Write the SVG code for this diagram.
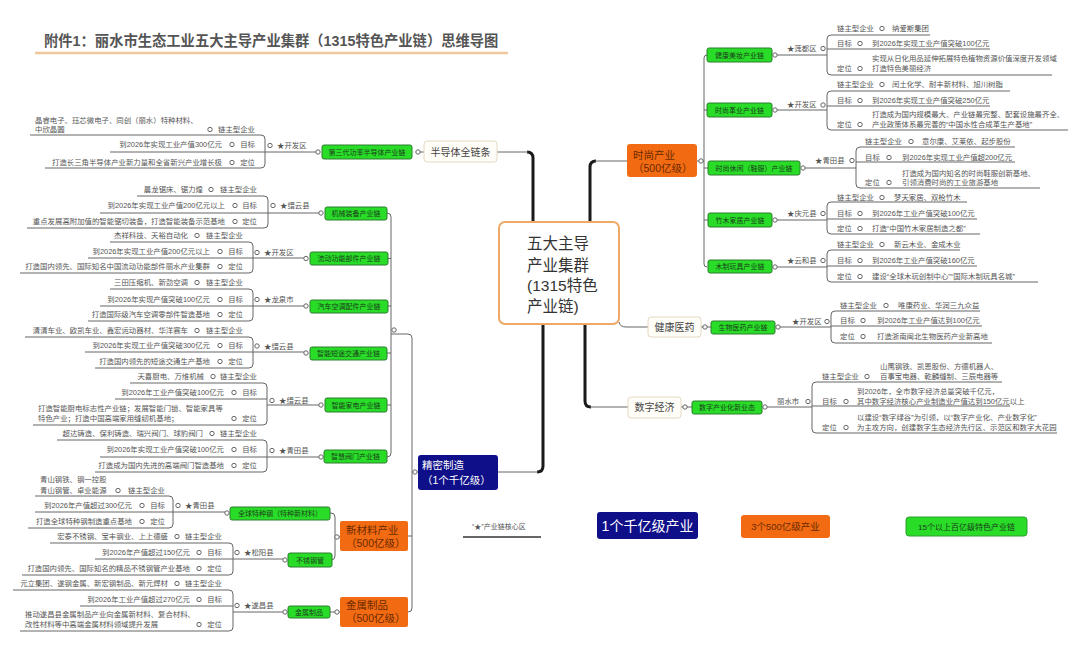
<svg xmlns="http://www.w3.org/2000/svg" width="1080" height="663" viewBox="0 0 1080 663">
<style>
text{font-family:'Liberation Sans','Noto Sans CJK SC',sans-serif}
.d{font-size:7.4px;fill:#555}
.de{font-size:7.4px;fill:#555;text-anchor:end}
.ln{fill:none;stroke:#666;stroke-width:1}
.mk{fill:#fff;stroke:#666;stroke-width:1}
.gb{fill:#28dc28;stroke:#2f7f2f;stroke-width:1}
.gt{font-size:7px;fill:#1d3d1d;text-anchor:middle}
.th{fill:none;stroke:#1a1a1a;stroke-width:3}
.ob{fill:#f26b12}
.ot{font-size:10.5px;fill:#6b2a00}
.wb{fill:#fffdf8;stroke:#e6d8c2;stroke-width:1}
.wt{font-size:10px;fill:#444;text-anchor:middle}
</style>
<rect width="1080" height="663" fill="#fff"/>
<g id="title">
<text x="44" y="46" font-size="14.3" font-weight="bold" fill="#555">附件1：丽水市生态工业五大主导产业集群（1315特色产业链）思维导图</text>
<line x1="35" y1="53" x2="508" y2="53" stroke="#f0c79a" stroke-width="2.5"/>
</g>
<g id="connectors">
<path class="th" d="M527,152 Q533,152 533,158 V222"/>
<path class="ln" d="M497,152 H528"/>
<path class="th" d="M590,222 V167 Q590,161 596,161"/>
<path class="ln" d="M595,161 H627"/>
<path class="th" d="M585,324 V401 Q585,407 591,407"/>
<path class="ln" d="M590,407 H628"/>
<path class="th" d="M543,324 V466 Q543,472 537,472"/>
<path class="ln" d="M538,472 H498"/>
<path class="ln" d="M619,322 Q620,327 626,327 H648"/>
<path class="ln" d="M416,152 H424"/>
<path class="ln" d="M387,213 Q391,213 391,217 V453 Q391,457 387,457 M388,258.5 H391 M388,306 H391 M387,353 H391 M387,405 H391 M391,334 H408 Q412,334 412,338 V608 Q412,612 408,612 M408,536 H412 M412,472 H418"/>
<path class="ln" d="M330,513 H331 Q335,513 335,517 V556 Q335,560 331,560 H332 M335,537 H340 M330,612 H340"/>
<path class="ln" d="M697,161 H704 M707,55 Q704,55 704,58 V264 Q704,267 707,267 M704,110 H707 M704,168 H708 M704,220 H708"/>
<path class="ln" d="M701,327 H711 M681,407 H692"/>
<path class="ln" d="M30,135 H261 Q265,135 265,139 V164 Q265,168 261,168 H45 M110,152 H318"/>
<path class="ln" d="M137,196 H264 Q268,196 268,200 V224 Q268,228 264,228 H27 M100,213 H321"/>
<path class="ln" d="M110,242 H249 Q253,242 253,246 V269 Q253,273 249,273 H20 M88,258 H306"/>
<path class="ln" d="M110,289 H249 Q253,289 253,293 V317 Q253,321 249,321 H88 M100,306 H306"/>
<path class="ln" d="M25,337 H249 Q253,337 253,341 V364 Q253,368 249,368 H95 M85,352 H306"/>
<path class="ln" d="M130,383 H263 Q267,383 267,387 V421 Q267,425 263,425 H33 M115,399 H267 M267,405 H321"/>
<path class="ln" d="M57,440 H263 Q267,440 267,444 V468 Q267,472 263,472 H95 M100,457 H321"/>
<path class="ln" d="M35,496 H169 Q173,496 173,500 V524 Q173,528 169,528 H28 M35,512 H227"/>
<path class="ln" d="M50,543 H229 Q233,543 233,547 V571 Q233,575 229,575 H22 M95,559 H285"/>
<path class="ln" d="M13,590 H229 Q233,590 233,594 V627 Q233,631 229,631 H20 M80,606 H233 M233,612 H285"/>
<path class="ln" d="M930,35 H831 Q827,35 827,39 V71 Q827,75 831,75 H1052 M827,49 H990 M774,55 H827"/>
<path class="ln" d="M1010,91 H831 Q827,91 827,95 V126 Q827,130 831,130 H1068 M827,106 H990 M774,110 H827"/>
<path class="ln" d="M1015,147 H860 Q856,147 856,151 V184 Q856,188 860,188 H1040 M856,162 H1015 M803,168 H856"/>
<path class="ln" d="M967,202 H831 Q827,202 827,206 V230 Q827,234 831,234 H980 M827,219 H977 M774,220 H827"/>
<path class="ln" d="M960,250 H831 Q827,250 827,254 V278 Q827,282 831,282 H1038 M827,266 H977 M774,267 H827"/>
<path class="ln" d="M980,311 H835 Q831,311 831,315 V339 Q831,343 835,343 H992 M831,326 H982 M778,327 H831"/>
<path class="ln" d="M1002,382 H816 Q812,382 812,386 V429 Q812,433 816,433 H1057 M812,406 H1010 M764,407 H812"/>
<g>
<circle class="mk" cx="418" cy="152" r="2.2"/><circle class="mk" cx="318" cy="152" r="2.2"/>
<circle class="mk" cx="321" cy="213" r="2.2"/><circle class="mk" cx="306" cy="258.5" r="2.2"/>
<circle class="mk" cx="306" cy="306" r="2.2"/><circle class="mk" cx="306" cy="353" r="2.2"/>
<circle class="mk" cx="321" cy="405" r="2.2"/><circle class="mk" cx="321" cy="457" r="2.2"/>
<circle class="mk" cx="227" cy="513" r="2.2"/><circle class="mk" cx="285" cy="560" r="2.2"/>
<circle class="mk" cx="285" cy="612" r="2.2"/><circle class="mk" cx="337" cy="537" r="2.2"/>
<circle class="mk" cx="337" cy="612" r="2.2"/><circle class="mk" cx="415" cy="472" r="2.2"/>
<circle class="mk" cx="394" cy="330" r="2.2"/>
<circle class="mk" cx="701" cy="161" r="2.2"/><circle class="mk" cx="775" cy="55" r="2.2"/>
<circle class="mk" cx="775" cy="110" r="2.2"/><circle class="mk" cx="803" cy="168" r="2.2"/>
<circle class="mk" cx="775" cy="220" r="2.2"/><circle class="mk" cx="775" cy="267" r="2.2"/>
<circle class="mk" cx="705" cy="327" r="2.2"/><circle class="mk" cx="778" cy="327" r="2.2"/>
<circle class="mk" cx="685" cy="407" r="2.2"/><circle class="mk" cx="765" cy="407" r="2.2"/>
</g>
</g>
<g id="center">
<rect x="499" y="222" width="120" height="102" rx="6" fill="#fff" stroke="#f0a868" stroke-width="2"/>
<g font-size="15.5" fill="#333">
<text x="527" y="249">五大主导</text>
<text x="527" y="271">产业集群</text>
<text x="527" y="291">(1315特色</text>
<text x="527" y="312">产业链)</text>
</g>
</g>
<g id="node-semiconductor">
<rect class="wb" x="424" y="141" width="73" height="21" rx="3"/>
<text class="wt" x="460.5" y="156">半导体全链条</text>
</g>
<g id="node-fashion">
<rect class="ob" x="627" y="144" width="70" height="33" rx="3"/>
<text class="ot" x="633" y="158.5">时尚产业</text>
<text class="ot" x="633" y="171.5">（500亿级）</text>
</g>
<g id="node-health">
<rect class="wb" x="648" y="317" width="53" height="20" rx="3"/>
<text class="wt" x="674.5" y="331">健康医药</text>
</g>
<g id="node-digital">
<rect class="wb" x="628" y="397" width="53" height="21" rx="3"/>
<text class="wt" x="654.5" y="411">数字经济</text>
</g>
<g id="node-precision">
<rect x="418" y="455" width="80" height="35" rx="3" fill="#0f0f8a"/>
<text x="422" y="469" font-size="10.5" fill="#fff">精密制造</text>
<text x="422" y="484" font-size="10.5" fill="#fff">（1个千亿级）</text>
</g>
<g id="node-newmaterial">
<rect class="ob" x="340" y="521" width="68" height="30" rx="2"/>
<text class="ot" x="346" y="534">新材料产业</text>
<text class="ot" x="346" y="547">（500亿级）</text>
</g>
<g id="node-metal">
<rect class="ob" x="340" y="597" width="68" height="30" rx="2"/>
<text class="ot" x="346" y="609">金属制品</text>
<text class="ot" x="346" y="622">（500亿级）</text>
</g>
<g id="chain-boxes">
<rect class="gb" x="322" y="145" width="90" height="14" rx="2"/><text class="gt" x="367" y="154.5">第三代功率半导体产业链</text>
<rect class="gb" x="325" y="207" width="62" height="13" rx="2"/><text class="gt" x="356" y="216">机械装备产业链</text>
<rect class="gb" x="310" y="252" width="78" height="13" rx="2"/><text class="gt" x="349" y="261">流动功能部件产业链</text>
<rect class="gb" x="310" y="300" width="78" height="13" rx="2"/><text class="gt" x="349" y="309">汽车空调配件产业链</text>
<rect class="gb" x="310" y="347" width="77" height="13" rx="2"/><text class="gt" x="348.5" y="356">智能短途交通产业链</text>
<rect class="gb" x="325" y="398" width="62" height="14" rx="2"/><text class="gt" x="356" y="407.5">智能家电产业链</text>
<rect class="gb" x="324" y="450" width="63" height="13" rx="2"/><text class="gt" x="355.5" y="459">智慧阀门产业链</text>
<rect class="gb" x="230" y="507" width="100" height="13" rx="2"/><text class="gt" x="280" y="516">全球特种钢（特种新材料）</text>
<rect class="gb" x="288" y="553" width="44" height="14" rx="2"/><text class="gt" x="310" y="562.5">不锈钢管</text>
<rect class="gb" x="288" y="606" width="42" height="12" rx="2"/><text class="gt" x="309" y="614.5">金属制品</text>
<rect class="gb" x="707" y="48" width="65" height="14" rx="2"/><text class="gt" x="739.5" y="57.5">健康美妆产业链</text>
<rect class="gb" x="707" y="103" width="65" height="14" rx="2"/><text class="gt" x="739.5" y="112.5">时尚革业产业链</text>
<rect class="gb" x="708" y="161" width="92" height="14" rx="2"/><text class="gt" x="754" y="170.5">时尚休闲（鞋服）产业链</text>
<rect class="gb" x="708" y="213" width="64" height="14" rx="2"/><text class="gt" x="740" y="222.5">竹木家居产业链</text>
<rect class="gb" x="708" y="260" width="64" height="13" rx="2"/><text class="gt" x="740" y="269">木制玩具产业链</text>
<rect class="gb" x="711" y="321" width="64" height="13" rx="2"/><text class="gt" x="743" y="330">生物医药产业链</text>
<rect class="gb" x="692" y="401" width="70" height="13" rx="2"/><text class="gt" x="727" y="410">数字产业化新业态</text>
</g>
<g id="details-left">
<g id="d-semi">
<text class="d" x="35" y="123">晶睿电子、珏芯微电子、同创（丽水）特种材料、</text>
<text class="d" x="35" y="132">中欣晶圆</text>
<circle class="mk" cx="210" cy="129.5" r="2.2"/><text class="de" x="255" y="132">链主型企业</text>
<text class="de" x="222" y="147">到2026年实现工业产值300亿元</text>
<circle class="mk" cx="232" cy="144.5" r="2.2"/><text class="de" x="255" y="147">目标</text>
<text class="de" x="222" y="165">打造长三角半导体产业新力量和全省新兴产业增长极</text>
<circle class="mk" cx="232" cy="162.5" r="2.2"/><text class="de" x="255" y="165">定位</text>
<circle class="mk" cx="270" cy="145.5" r="2.2"/><text class="d" x="277" y="148">★开发区</text>
</g>
<g id="d-machine">
<text class="de" x="203" y="192">晨龙锯床、锯力煌</text>
<circle class="mk" cx="211" cy="189.5" r="2.2"/><text class="de" x="257" y="192">链主型企业</text>
<text class="de" x="225" y="208">到2026年实现工业产值200亿元以上</text>
<circle class="mk" cx="235" cy="205.5" r="2.2"/><text class="de" x="257" y="208">目标</text>
<text class="de" x="225" y="224">重点发展高附加值的智能锯切装备，打造智能装备示范基地</text>
<circle class="mk" cx="235" cy="221.5" r="2.2"/><text class="de" x="257" y="224">定位</text>
<circle class="mk" cx="273" cy="205.5" r="2.2"/><text class="d" x="280" y="208">★缙云县</text>
</g>
<g id="d-fluid">
<text class="de" x="188" y="238">杰祥科技、天裕自动化</text>
<circle class="mk" cx="197" cy="235.5" r="2.2"/><text class="de" x="243" y="238">链主型企业</text>
<text class="de" x="210" y="254">到2026年实现工业产值200亿元以上</text>
<circle class="mk" cx="220" cy="251.5" r="2.2"/><text class="de" x="243" y="254">目标</text>
<text class="de" x="210" y="269">打造国内领先、国际知名中国流动功能部件丽水产业集群</text>
<circle class="mk" cx="220" cy="266.5" r="2.2"/><text class="de" x="243" y="269">定位</text>
<circle class="mk" cx="257" cy="252.5" r="2.2"/><text class="d" x="264" y="255">★开发区</text>
</g>
<g id="d-auto">
<text class="de" x="188" y="285">三田压缩机、新劲空调</text>
<circle class="mk" cx="197" cy="282.5" r="2.2"/><text class="de" x="243" y="285">链主型企业</text>
<text class="de" x="210" y="302">到2026年实现产值突破100亿元</text>
<circle class="mk" cx="220" cy="299.5" r="2.2"/><text class="de" x="243" y="302">目标</text>
<text class="de" x="210" y="317">打造国际级汽车空调零部件智造基地</text>
<circle class="mk" cx="220" cy="314.5" r="2.2"/><text class="de" x="243" y="317">定位</text>
<circle class="mk" cx="257" cy="299.5" r="2.2"/><text class="d" x="264" y="302">★龙泉市</text>
</g>
<g id="d-transport">
<text class="de" x="188" y="333">清清车业、欧凯车业、鑫宏运动器材、华洋赛车</text>
<circle class="mk" cx="197" cy="330.5" r="2.2"/><text class="de" x="243" y="333">链主型企业</text>
<text class="de" x="210" y="348">到2026年实现工业产值突破300亿元</text>
<circle class="mk" cx="220" cy="345.5" r="2.2"/><text class="de" x="243" y="348">目标</text>
<text class="de" x="210" y="364">打造国内领先的短途交通生产基地</text>
<circle class="mk" cx="220" cy="361.5" r="2.2"/><text class="de" x="243" y="364">定位</text>
<circle class="mk" cx="257" cy="346" r="2.2"/><text class="d" x="264" y="349">★缙云县</text>
</g>
<g id="d-appliance">
<text class="de" x="204" y="379">天喜厨电、万维机械</text>
<circle class="mk" cx="213" cy="376.5" r="2.2"/><text class="de" x="257" y="379">链主型企业</text>
<text class="de" x="224" y="395">到2026年工业产值突破100亿元</text>
<circle class="mk" cx="234" cy="392.5" r="2.2"/><text class="de" x="257" y="395">目标</text>
<text class="d" x="38" y="411">打造智能厨电标志性产业链；发展智能门锁、智能家具等</text>
<text class="d" x="38" y="421">特色产业；打造中国高端家用缝纫机基地；</text>
<circle class="mk" cx="234" cy="418.5" r="2.2"/><text class="de" x="257" y="421">定位</text>
<circle class="mk" cx="272" cy="400.5" r="2.2"/><text class="d" x="279" y="403">★缙云县</text>
</g>
<g id="d-valve">
<text class="de" x="203" y="436">超达铸造、保利铸造、瑞兴阀门、球豹阀门</text>
<circle class="mk" cx="212" cy="433.5" r="2.2"/><text class="de" x="257" y="436">链主型企业</text>
<text class="de" x="224" y="452">到2026年实现工业产值突破100亿元</text>
<circle class="mk" cx="234" cy="449.5" r="2.2"/><text class="de" x="257" y="452">目标</text>
<text class="de" x="224" y="468">打造成为国内先进的高端阀门智造基地</text>
<circle class="mk" cx="234" cy="465.5" r="2.2"/><text class="de" x="257" y="468">定位</text>
<circle class="mk" cx="272" cy="450.5" r="2.2"/><text class="d" x="279" y="453">★青田县</text>
</g>
<g id="d-steel">
<text class="d" x="40" y="482">青山钢铁、钢一控股</text>
<text class="d" x="40" y="493">青山钢管、卓业能源</text>
<circle class="mk" cx="118" cy="490.5" r="2.2"/><text class="de" x="165" y="493">链主型企业</text>
<text class="de" x="132" y="508">到2026年产值超过300亿元</text>
<circle class="mk" cx="142" cy="505.5" r="2.2"/><text class="de" x="165" y="508">目标</text>
<text class="de" x="132" y="524">打造全球特种钢制造重点基地</text>
<circle class="mk" cx="142" cy="521.5" r="2.2"/><text class="de" x="165" y="524">定位</text>
<circle class="mk" cx="178" cy="505.5" r="2.2"/><text class="d" x="185" y="508">★青田县</text>
</g>
<g id="d-stainless">
<text class="de" x="168" y="539">宏泰不锈钢、宝丰钢业、上上德盛</text>
<circle class="mk" cx="177" cy="536.5" r="2.2"/><text class="de" x="222" y="539">链主型企业</text>
<text class="de" x="190" y="555">到2026年产值超过150亿元</text>
<circle class="mk" cx="199" cy="552.5" r="2.2"/><text class="de" x="222" y="555">目标</text>
<text class="de" x="190" y="571">打造国内领先、国际知名的精品不锈钢管产业基地</text>
<circle class="mk" cx="199" cy="568.5" r="2.2"/><text class="de" x="222" y="571">定位</text>
<circle class="mk" cx="237" cy="552.5" r="2.2"/><text class="d" x="244" y="555">★松阳县</text>
</g>
<g id="d-metal">
<text class="de" x="168" y="586">元立集团、遂钢金属、新宏钢制品、新元焊材</text>
<circle class="mk" cx="177" cy="583.5" r="2.2"/><text class="de" x="222" y="586">链主型企业</text>
<text class="de" x="190" y="602">到2026年工业产值超过270亿元</text>
<circle class="mk" cx="199" cy="599.5" r="2.2"/><text class="de" x="222" y="602">目标</text>
<text class="d" x="25" y="617">推动遂昌县金属制品产业向金属新材料、复合材料、</text>
<text class="d" x="25" y="627">改性材料等中高端金属材料领域提升发展</text>
<circle class="mk" cx="199" cy="624.5" r="2.2"/><text class="de" x="222" y="627">定位</text>
<circle class="mk" cx="237" cy="605.5" r="2.2"/><text class="d" x="244" y="608">★遂昌县</text>
</g>
</g>
<g id="details-right">
<g id="d-beauty">
<text class="d" x="837" y="31">链主型企业</text><circle class="mk" cx="882" cy="28.5" r="2.2"/><text class="d" x="892" y="31">纳爱斯集团</text>
<text class="d" x="837" y="46">目标</text><circle class="mk" cx="860" cy="43.5" r="2.2"/><text class="d" x="872" y="46">到2026年实现工业产值突破100亿元</text>
<text class="d" x="872" y="61">实现从日化用品延伸拓展特色植物资源价值深度开发领域</text>
<text class="d" x="837" y="71">定位</text><circle class="mk" cx="860" cy="68.5" r="2.2"/><text class="d" x="872" y="71">打造特色美丽经济</text>
<circle class="mk" cx="823" cy="48.5" r="2.2"/><text class="d" x="787" y="51">★莲都区</text>
</g>
<g id="d-leather">
<text class="d" x="837" y="87">链主型企业</text><circle class="mk" cx="882" cy="84.5" r="2.2"/><text class="d" x="892" y="87">闰土化学、耐丰新材料、旭川树脂</text>
<text class="d" x="837" y="103">目标</text><circle class="mk" cx="860" cy="100.5" r="2.2"/><text class="d" x="872" y="103">到2026年实现工业产值突破250亿元</text>
<text class="d" x="872" y="117">打造成为国内规模最大、产业链最完整、配套设施最齐全、</text>
<text class="d" x="837" y="127">定位</text><circle class="mk" cx="860" cy="124.5" r="2.2"/><text class="d" x="872" y="127">产业政策体系最完善的“中国水性合成革生产基地”</text>
<circle class="mk" cx="823" cy="105" r="2.2"/><text class="d" x="787" y="107">★开发区</text>
</g>
<g id="d-shoes">
<text class="d" x="865" y="144">链主型企业</text><circle class="mk" cx="911" cy="141.5" r="2.2"/><text class="d" x="922" y="144">意尔康、艾莱依、起步股份</text>
<text class="d" x="865" y="160">目标</text><circle class="mk" cx="889" cy="157.5" r="2.2"/><text class="d" x="902" y="160">到2026年实现工业产值超200亿元</text>
<text class="d" x="902" y="176">打造成为国内知名的时尚鞋服创新基地、</text>
<text class="d" x="865" y="185">定位</text><circle class="mk" cx="889" cy="182.5" r="2.2"/><text class="d" x="902" y="185">引领消费时尚的工业旅游基地</text>
<circle class="mk" cx="852" cy="160.5" r="2.2"/><text class="d" x="815" y="163">★青田县</text>
</g>
<g id="d-bamboo">
<text class="d" x="837" y="200">链主型企业</text><circle class="mk" cx="882" cy="197.5" r="2.2"/><text class="d" x="894" y="200">梦天家居、双枪竹木</text>
<text class="d" x="837" y="216">目标</text><circle class="mk" cx="860" cy="213.5" r="2.2"/><text class="d" x="872" y="216">到2026年工业产值突破100亿元</text>
<text class="d" x="837" y="231">定位</text><circle class="mk" cx="860" cy="228.5" r="2.2"/><text class="d" x="872" y="231">打造“中国竹木家居制造之都”</text>
<circle class="mk" cx="823" cy="213.5" r="2.2"/><text class="d" x="787" y="216">★庆元县</text>
</g>
<g id="d-toys">
<text class="d" x="837" y="247">链主型企业</text><circle class="mk" cx="882" cy="244.5" r="2.2"/><text class="d" x="894" y="247">新云木业、金成木业</text>
<text class="d" x="837" y="263">目标</text><circle class="mk" cx="860" cy="260.5" r="2.2"/><text class="d" x="872" y="263">到2026年工业产值突破160亿元</text>
<text class="d" x="837" y="279">定位</text><circle class="mk" cx="860" cy="276.5" r="2.2"/><text class="d" x="872" y="279">建设“全球木玩创制中心”“国际木制玩具名城”</text>
<circle class="mk" cx="823" cy="260.5" r="2.2"/><text class="d" x="787" y="263">★云和县</text>
</g>
<g id="d-bio">
<text class="d" x="840" y="308">链主型企业</text><circle class="mk" cx="886" cy="305.5" r="2.2"/><text class="d" x="898" y="308">唯康药业、华润三九众益</text>
<text class="d" x="840" y="323">目标</text><circle class="mk" cx="863" cy="320.5" r="2.2"/><text class="d" x="877" y="323">到2026年工业产值达到100亿元</text>
<text class="d" x="840" y="339">定位</text><circle class="mk" cx="863" cy="336.5" r="2.2"/><text class="d" x="877" y="339">打造浙南闽北生物医药产业新高地</text>
<circle class="mk" cx="827" cy="321.5" r="2.2"/><text class="d" x="792" y="324">★开发区</text>
</g>
<g id="d-digital">
<text class="d" x="880" y="369">山鹰钢铁、凯恩股份、方德机器人、</text>
<text class="d" x="822" y="379">链主型企业</text><circle class="mk" cx="867" cy="376.5" r="2.2"/><text class="d" x="880" y="379">百事宝电器、乾麟缝制、三辰电器等</text>
<text class="d" x="857" y="394">到2026年，全市数字经济总量突破千亿元，</text>
<text class="d" x="822" y="404">目标</text><circle class="mk" cx="846" cy="401.5" r="2.2"/><text class="d" x="857" y="404">其中数字经济核心产业制造业产值达到150亿元以上</text>
<text class="d" x="857" y="420">以建设“数字绿谷”为引领，以“数字产业化、产业数字化”</text>
<text class="d" x="822" y="430">定位</text><circle class="mk" cx="846" cy="427.5" r="2.2"/><text class="d" x="857" y="430">为主攻方向，创建数字生态经济先行区、示范区和数字大花园</text>
<circle class="mk" cx="808" cy="401.5" r="2.2"/><text class="d" x="777" y="404">丽水市</text>
</g>
</g>
<g id="legend">
<text x="472" y="529" font-size="7px" fill="#555">“★”产业链核心区</text>
<line x1="463" y1="537" x2="541" y2="537" stroke="#333" stroke-width="1.5"/>
<rect x="597" y="512" width="101" height="27" rx="3" fill="#0f0f8a"/>
<text x="647.5" y="531" font-size="14" fill="#fff" text-anchor="middle">1个千亿级产业</text>
<rect x="741" y="515" width="89" height="23" rx="3" fill="#f26b12"/>
<text x="785.5" y="530" font-size="9.5" fill="#6b2a00" text-anchor="middle">3个500亿级产业</text>
<rect x="906" y="517" width="121" height="19" rx="3" fill="#28dc28" stroke="#2f9f2f"/>
<text x="966.5" y="529.5" font-size="8" fill="#1d3d1d" text-anchor="middle">15个以上百亿级特色产业链</text>
</g>
</svg>
